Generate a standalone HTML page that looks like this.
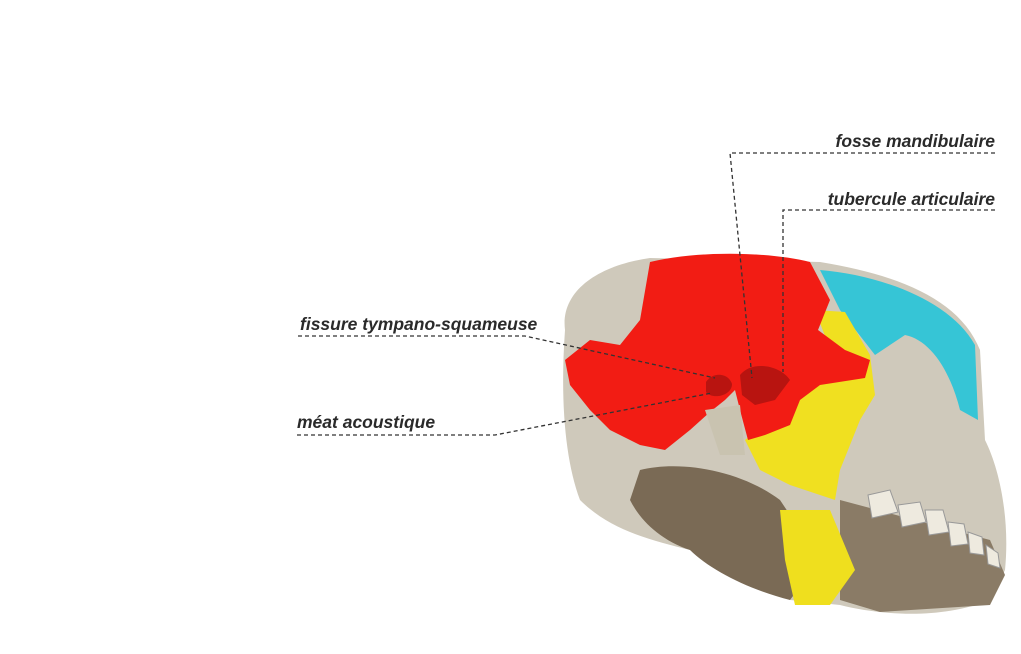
<!DOCTYPE html>
<html><head><meta charset="utf-8">
<style>
html,body{margin:0;padding:0;background:#fff;}
body{width:1021px;height:654px;overflow:hidden;position:relative;font-family:"Liberation Sans",sans-serif;}
.lbl{position:absolute;font-style:italic;font-weight:bold;font-size:17.5px;color:#2a2a2a;white-space:nowrap;}
</style></head>
<body>
<svg width="1021" height="654" style="position:absolute;left:0;top:0">
  <path d="M565 330 C560 290 600 265 650 258 L820 262 C900 275 960 300 980 350 L985 440 C1000 470 1010 520 1005 570 L990 600 C940 620 880 615 840 605 L790 600 C760 585 720 570 690 550 C650 540 610 530 580 500 C565 460 560 400 565 330Z" fill="#cfc9bb"/>
  <path d="M640 470 C680 460 740 470 780 500 L820 560 L790 600 C750 590 710 570 690 550 C660 540 640 520 630 500Z" fill="#7a6a55"/>
  <path d="M840 500 L990 540 L1005 575 L990 605 L880 612 L840 600Z" fill="#8a7b66"/>
  <path d="M820 270 C880 275 950 300 975 345 L978 420 L960 410 C950 370 930 340 905 335 L875 355 L840 310Z" fill="#36c5d6"/>
  <path d="M815 310 L845 312 L870 355 L875 395 L860 420 L840 470 L835 500 L790 485 L760 470 L745 440 L770 420 L800 390 L840 375Z" fill="#f0e020"/>
  <path d="M780 510 L830 510 L855 570 L830 605 L795 605 L785 560Z" fill="#efdf1e"/>
  <path d="M650 262 C700 250 770 252 810 262 L830 300 L818 330 L845 350 L870 360 L865 378 L820 385 L800 400 L790 425 L765 435 L748 440 L740 410 L735 390 L725 400 L710 412 L690 430 L665 450 L640 445 L610 430 L590 410 L570 385 L565 360 L590 340 L620 345 L640 320Z" fill="#f21c14"/>
  <path d="M706 382 C712 372 728 372 732 384 C732 396 712 400 706 392Z" fill="#b81410"/>
  <path d="M740 375 C752 360 780 365 790 380 L775 400 L755 405 L742 395Z" fill="#b81410"/>
  <path d="M705 410 L740 405 L745 455 L720 455Z" fill="#c9c3b0"/>
  <g fill="#eeeadf" stroke="#999" stroke-width="1">
    <path d="M868 495 l22 -5 l8 22 l-26 6z"/><path d="M898 505 l22 -3 l6 20 l-24 5z"/>
    <path d="M925 510 l18 0 l6 22 l-20 3z"/><path d="M948 522 l16 2 l4 20 l-17 2z"/>
    <path d="M968 532 l14 5 l2 18 l-14 -2z"/><path d="M986 545 l12 8 l2 15 l-12 -4z"/>
  </g>
  <g stroke="#333" stroke-width="1.3" stroke-dasharray="4,3" fill="none">
    <path d="M995 153 L730 153 L752 378"/>
    <path d="M995 210 L783 210 L783 372"/>
    <path d="M298 336 L525 336 L715 378"/>
    <path d="M297 435 L495 435 L712 393"/>
  </g>
</svg>
<div class="lbl" style="right:26px;top:131px">fosse mandibulaire</div>
<div class="lbl" style="right:26px;top:189px">tubercule articulaire</div>
<div class="lbl" style="left:300px;top:314px">fissure tympano-squameuse</div>
<div class="lbl" style="left:297px;top:412px">méat acoustique</div>
</body></html>
